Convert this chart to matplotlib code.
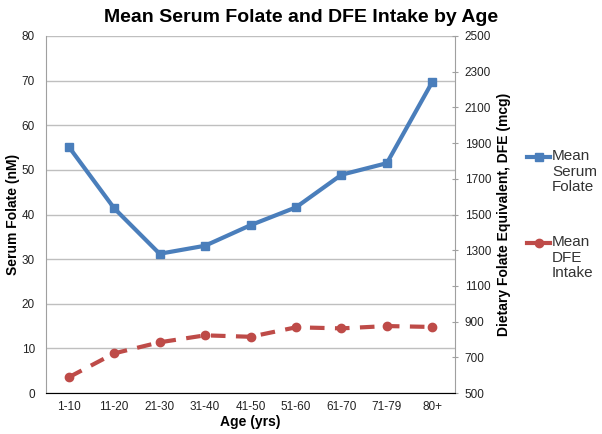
import matplotlib
matplotlib.use("Agg")
import matplotlib.pyplot as plt
from matplotlib.lines import Line2D

plt.rcParams['font.family'] = ['Liberation Sans', 'DejaVu Sans']

ages = ["1-10", "11-20", "21-30", "31-40", "41-50", "51-60", "61-70", "71-79", "80+"]
serum_folate = [55.2, 41.4, 31.2, 33.0, 37.6, 41.6, 48.9, 51.5, 69.7]
dfe_intake = [588, 722, 784, 823, 815, 868, 862, 875, 870]
series_names = ["Mean\nSerum\nFolate", "Mean\nDFE\nIntake"]

blue = "#4a7ebb"
red = "#be4b48"

fig = plt.figure(figsize=(6.02, 4.34), dpi=100)
ax = fig.add_axes([46/602, 1-393/434, (455-46)/602, (393-36)/434])
ax2 = ax.twinx()

x = list(range(len(ages)))
ax.plot(x, serum_folate, color=blue, lw=3, marker='s', ms=6, zorder=3)
ax2.plot(x, dfe_intake, color=red, lw=3, ls=(0, (3.5, 2.5)), marker='o', ms=6, zorder=3)

ax.set_xlim(-0.5, len(ages) - 0.5)
ax.set_ylim(0, 80)
ax.set_yticks(range(0, 81, 10))
ax2.set_ylim(500, 2500)
ax2.set_yticks(range(500, 2501, 200))
ax.set_xticks(x)
ax.set_xticklabels(ages)
ax.grid(axis='y', color='#bfbfbf', lw=1)
ax.set_axisbelow(True)

for a in (ax, ax2):
    a.spines['top'].set_visible(False)
    a.tick_params(labelsize=8.5, colors='#404040', labelcolor='#222222')
ax.spines['right'].set_visible(False)
ax2.spines['left'].set_visible(False)
ax2.spines['right'].set_color('#a0a0a0')
ax.spines['left'].set_color('#a0a0a0')
ax.spines['bottom'].set_color('#a0a0a0')
ax.tick_params(axis='y', length=0, pad=8)
ax.tick_params(axis='x', length=0, pad=6)
ax2.tick_params(axis='y', length=4, color='#a0a0a0', direction='inout', pad=5)

ax.set_ylabel("Serum Folate (nM)", fontsize=10, fontweight='bold', labelpad=1)
ax.set_xlabel("Age (yrs)", fontsize=10, fontweight='bold', labelpad=1)
ax2.set_ylabel("Dietary Folate Equivalent, DFE (mcg)", fontsize=10, fontweight='bold', labelpad=4)

fig.text(0.5, 1-18/434, "Mean Serum Folate and DFE Intake by Age", ha='center', va='center',
         fontsize=14, fontweight='bold')

# legend, handle aligned with first text line
leg_y = [157, 243]
styles = [dict(color=blue, marker='s'), dict(color=red, marker='o')]
for yy, name, st in zip(leg_y, series_names, styles):
    yf = 1 - yy/434
    fig.add_artist(Line2D([527/602, 550/602], [yf, yf], transform=fig.transFigure,
                          lw=3, color=st['color']))
    fig.add_artist(Line2D([538.5/602], [yf], transform=fig.transFigure, lw=0,
                          marker=st['marker'], ms=6, color=st['color']))
    fig.text(552/602, 1 - (yy - 8)/434, name, ha='left', va='top', fontsize=11,
             color='#333333', linespacing=1.15, transform=fig.transFigure)

fig.savefig("out.png", dpi=100)
